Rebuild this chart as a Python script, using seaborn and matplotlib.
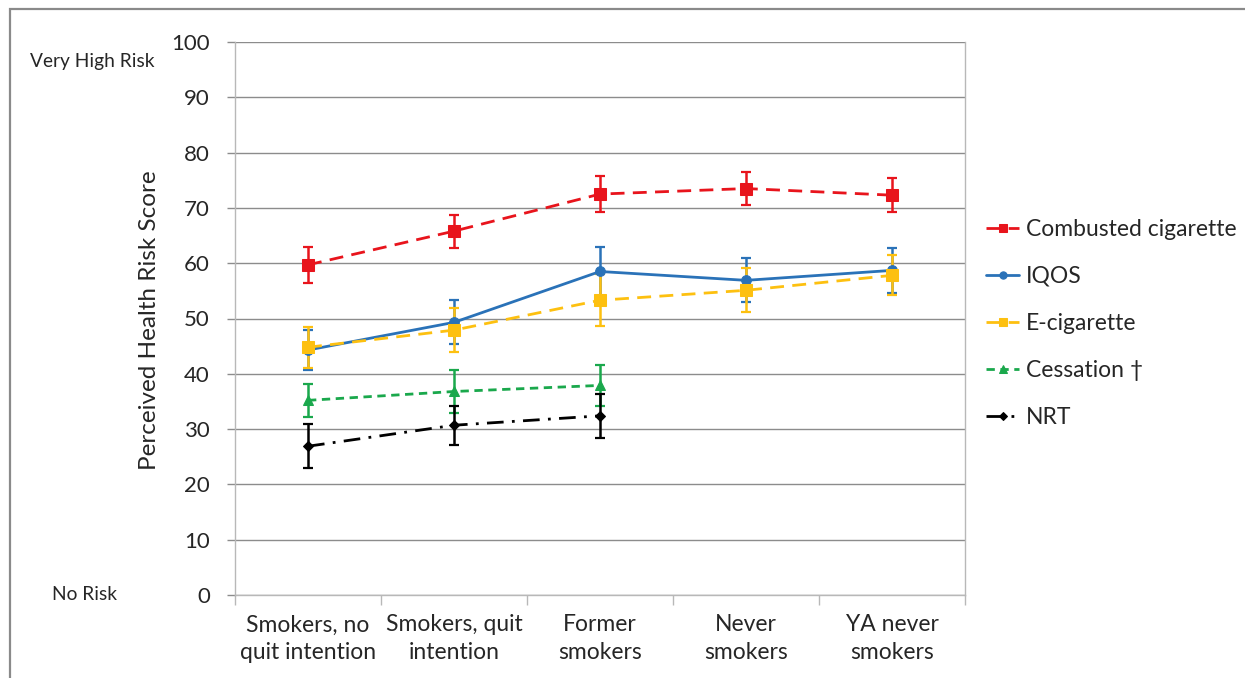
import numpy as np
import pandas as pd
import seaborn as sns
import matplotlib.pyplot as plt
from matplotlib.patches import Rectangle

# Categories and series
groups = ["Smokers, no\nquit intention", "Smokers, quit\nintention", "Former\nsmokers",
          "Never\nsmokers", "YA never\nsmokers"]

combusted = [59.7, 65.8, 72.5, 73.5, 72.3]
combusted_err = [3.2, 3.0, 3.2, 3.0, 3.1]
iqos = [44.3, 49.3, 58.5, 56.9, 58.7]
iqos_err = [3.7, 4.0, 4.4, 4.0, 4.0]
ecig = [44.8, 47.9, 53.3, 55.1, 57.8]
ecig_err = [3.7, 4.0, 4.7, 4.0, 3.6]
cessation = [35.2, 36.8, 37.9]
cessation_err = [3.0, 3.9, 3.7]
nrt = [26.9, 30.7, 32.4]
nrt_err = [4.0, 3.5, 4.0]

labels = ["Combusted cigarette", "IQOS", "E-cigarette", "Cessation \u2020", "NRT"]

sns.set_theme(style="white")
plt.rcParams['font.family'] = ['Lato', 'DejaVu Sans']

fig = plt.figure(figsize=(12.45, 6.78), dpi=100)
ax = fig.add_axes([235 / 1245, 1 - 595 / 678, 730 / 1245, 553 / 678])

# figure border (left and top visible)
fig.patches.append(Rectangle((10 / 1245, -0.05), 1.2, 1 - 9 / 678 + 0.05, transform=fig.transFigure,
                             fill=False, edgecolor="#8a8a8a", lw=1.6))

series = [
    (combusted, combusted_err, "#e8141c", "s", 8.5, (0, (5, 3))),
    (iqos, iqos_err, "#2a72b8", "o", 7, "-"),
    (ecig, ecig_err, "#fdc010", "s", 8.5, (0, (5, 3))),
    (cessation, cessation_err, "#1aa84c", "^", 7.5, (0, (3, 2))),
    (nrt, nrt_err, "black", "D", 5.5, (0, (6, 3, 1, 3))),
]

for (vals, errs, col, mk, ms, ls), lab in zip(series, labels):
    df = pd.DataFrame({"group": groups[:len(vals)], "score": vals})
    ax.errorbar(df["group"], df["score"], yerr=errs, fmt="none", ecolor=col,
                elinewidth=1.8, capsize=3.5, capthick=1.6, zorder=2)
    sns.lineplot(data=df, x="group", y="score", ax=ax, color=col, marker=mk,
                 markersize=ms, markeredgecolor=col, linestyle=ls, lw=2,
                 sort=False, label=lab, zorder=3)

ax.set_xlim(-0.5, 4.5)
ax.set_ylim(0, 100)
ax.set_yticks(np.arange(0, 101, 10))
ax.yaxis.grid(True, color="#8c8c8c", lw=1)
ax.set_axisbelow(True)

for side in ["left", "right", "bottom"]:
    ax.spines[side].set_color("#b8b8b8")
    ax.spines[side].set_linewidth(1)
ax.spines["top"].set_visible(False)

ax.tick_params(axis="y", which="major", direction="out", length=6, width=1, color="#8c8c8c",
               labelsize=16, pad=12, left=True)
ax.set_xticks(np.arange(-0.5, 5, 1), minor=True)
ax.tick_params(axis="x", which="minor", direction="out", length=7, width=1, color="#b8b8b8", bottom=True)
ax.tick_params(axis="x", which="major", length=0, labelsize=16.5, pad=14)
for t in ax.get_xticklabels():
    t.set_linespacing(1.4)
ax.set_xlabel("")
ax.set_ylabel("")

fig.text(150 / 1245, 1 - 320 / 678, "Perceived Health Risk Score", rotation=90,
         ha="center", va="center", fontsize=17.5)
fig.text(30 / 1245, 1 - 62 / 678, "Very High Risk", ha="left", va="center", fontsize=13.8)
fig.text(52 / 1245, 1 - 595 / 678, "No Risk", ha="left", va="center", fontsize=13.8)

ax.legend(loc="upper left", bbox_to_anchor=(986 / 1245, 1 - 219 / 678), bbox_transform=fig.transFigure,
          frameon=False, fontsize=16.5, labelspacing=1.13, handlelength=1.45, handletextpad=0.3,
          borderaxespad=0, borderpad=0, markerscale=0.75)

fig.savefig("out.png", dpi=100)
